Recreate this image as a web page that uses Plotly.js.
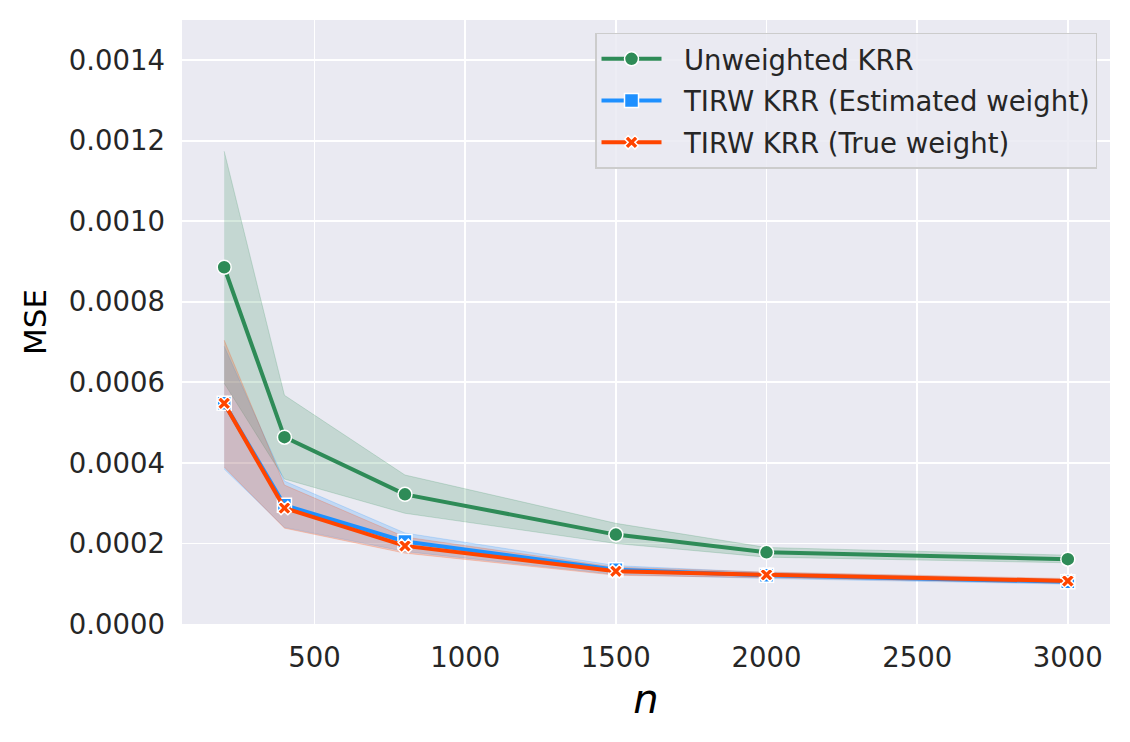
<!DOCTYPE html>
<html><head><meta charset="utf-8">
<script src="https://cdn.plot.ly/plotly-3.0.1.min.js"></script>
<style>body{margin:0;background:#fff}#chart{width:1130px;height:742px}</style>
</head><body><div id="chart"></div>
<script>
const nValues = [200, 400, 800, 1500, 2000, 3000];
const seriesNames = ["Unweighted KRR", "TIRW KRR (Estimated weight)", "TIRW KRR (True weight)"];
const unweightedMean = [0.000886, 0.000464, 0.000322, 0.000222, 0.000178, 0.000161];
const unweightedLow  = [0.000598, 0.000360, 0.000275, 0.000200, 0.000166, 0.000152];
const unweightedHigh = [0.001174, 0.000568, 0.000370, 0.000250, 0.000190, 0.000171];
const estimatedMean = [0.000548, 0.000295, 0.000205, 0.000135, 0.000121, 0.000105];
const estimatedLow  = [0.000385, 0.000240, 0.000180, 0.000123, 0.000113, 0.000099];
const estimatedHigh = [0.000690, 0.000355, 0.000226, 0.000145, 0.000128, 0.000111];
const trueMean = [0.000548, 0.000288, 0.000194, 0.000131, 0.000122, 0.000107];
const trueLow  = [0.000390, 0.000238, 0.000176, 0.000121, 0.000115, 0.000101];
const trueHigh = [0.000705, 0.000345, 0.000216, 0.000141, 0.000129, 0.000113];

const colors = ["#2E8B57", "#1E90FF", "#FF4500"];
const fills = ["rgba(46,139,87,0.2)", "rgba(30,144,255,0.2)", "rgba(255,69,0,0.2)"];
const symbols = ["circle", "square", "x"];
const means = [unweightedMean, estimatedMean, trueMean];
const lows = [unweightedLow, estimatedLow, trueLow];
const highs = [unweightedHigh, estimatedHigh, trueHigh];

const traces = [];
for (let i = 0; i < 3; i++) {
  traces.push({x: nValues, y: lows[i], mode: "lines", line: {width: 1, color: fills[i]}, showlegend: false, hoverinfo: "skip", legendgroup: "g" + i});
  traces.push({x: nValues, y: highs[i], mode: "lines", fill: "tonexty", fillcolor: fills[i], line: {width: 1, color: fills[i]}, showlegend: false, hoverinfo: "skip", legendgroup: "g" + i});
}
for (let i = 0; i < 3; i++) {
  traces.push({
    x: nValues, y: means[i], name: "\u00a0\u00a0" + seriesNames[i], mode: "lines+markers", legendgroup: "g" + i,
    line: {color: colors[i], width: 4},
    marker: {symbol: symbols[i], color: colors[i], size: i === 2 ? 12 : 14, line: {color: "#ffffff", width: 1.5}}
  });
}

const tickFont = {family: "DejaVu Sans", size: 27.5, color: "#262626"};
const layout = {
  width: 1130, height: 742,
  margin: {l: 182, r: 20, t: 20, b: 118},
  paper_bgcolor: "#ffffff", plot_bgcolor: "#EAEAF2",
  font: {family: "DejaVu Sans", color: "#262626"},
  xaxis: {
    range: [60, 3140], tickvals: [500, 1000, 1500, 2000, 2500, 3000],
    showgrid: true, gridcolor: "#ffffff", gridwidth: 1.8, zeroline: false, showline: false,
    tickfont: tickFont, ticks: "", ticklabelstandoff: 14,
    title: {text: "<i>n</i>", font: {family: "DejaVu Sans", size: 40, color: "#000"}, standoff: 13}
  },
  yaxis: {
    range: [0, 0.0015], tickvals: [0, 0.0002, 0.0004, 0.0006, 0.0008, 0.0010, 0.0012, 0.0014],
    tickformat: ".4f",
    showgrid: true, gridcolor: "#ffffff", gridwidth: 1.8, zeroline: false, showline: false,
    tickfont: tickFont, ticks: "", ticklabelstandoff: 16,
    title: {text: "MSE", font: {family: "DejaVu Sans", size: 31, color: "#000"}, standoff: 12}
  },
  legend: {
    x: 0.986, y: 0.9785, xanchor: "right", yanchor: "top",
    bgcolor: "rgba(234,234,242,0.85)", bordercolor: "#cccccc", borderwidth: 1.5,
    font: {family: "DejaVu Sans", size: 27.5, color: "#262626"},
    traceorder: "grouped", tracegroupgap: 3, itemwidth: 60
  },
  showlegend: true
};
Plotly.newPlot("chart", traces, layout, {displayModeBar: false, staticPlot: true});
</script></body></html>
